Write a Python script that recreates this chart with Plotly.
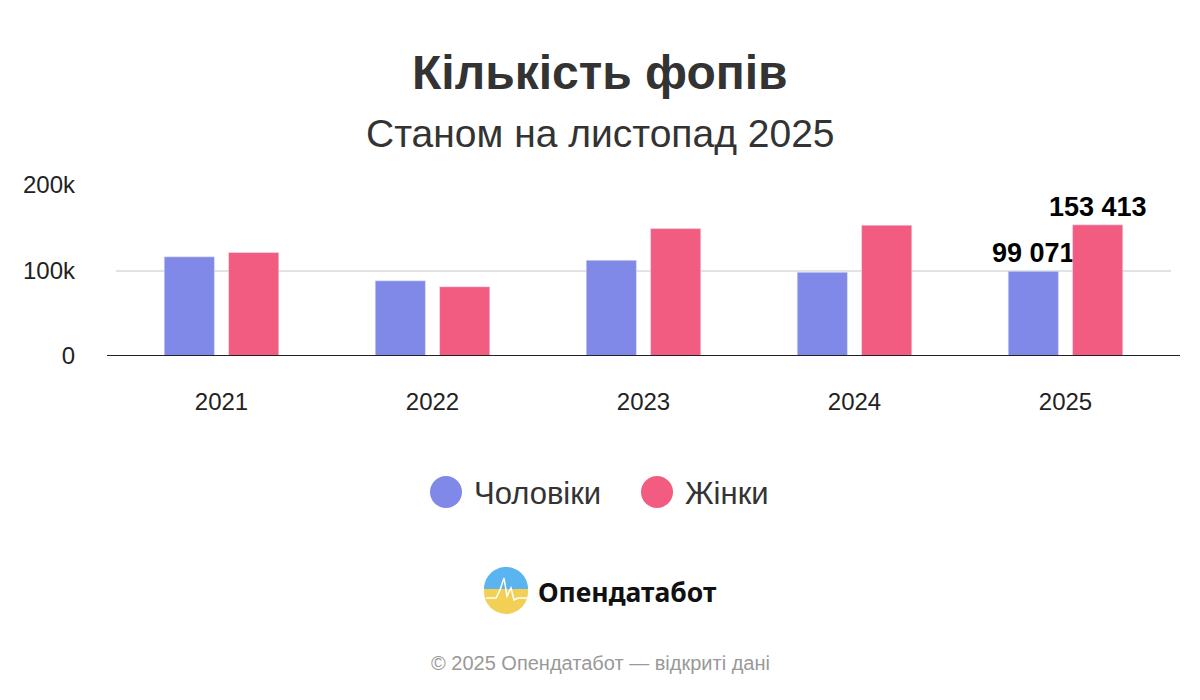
import plotly.graph_objects as go
import math

years = ["2021", "2022", "2023", "2024", "2025"]
men = [116000, 88000, 112000, 98000, 99071]
women = [121000, 81000, 149000, 153000, 153413]
men_labels = ["", "", "", "", "99 071"]
women_labels = ["", "", "", "", "153 413"]
tick_vals = [0, 100000, 200000]
tick_text = ["0", "100k", "200k"]

OFF = 8
L, R, T, B = 116, 1171, 185, 356
def px(p): return (p - L) / (R - L)
def py(p): return (B - p) / (B - T)

FONT = "Liberation Sans, Arial, sans-serif"
C_MEN = "#8088E8"
C_WOMEN = "#F25C81"

fig = go.Figure()
for vals, name, col, lab in [(men, "Чоловіки", C_MEN, men_labels), (women, "Жінки", C_WOMEN, women_labels)]:
    fig.add_bar(x=years, y=vals, name=name, marker_color=col, text=lab,
                textposition="outside", cliponaxis=False, constraintext="none",
                textfont=dict(family=FONT, size=27, color="#000000", weight="bold"))

ann = []
shapes = []
def text(t, x, y, size, color="#333333", family=FONT, xanchor="center"):
    ann.append(dict(text=t, x=px(x), y=py(y), xref="paper", yref="paper", xanchor=xanchor,
                    yanchor="middle", showarrow=False, font=dict(family=family, size=size, color=color)))

text("<b>Кількість фопів</b>", 600, 72, 48)
text("Станом на листопад 2025", 600, 133, 39)
for cx, col, label in [(446, C_MEN, "Чоловіки"), (657, C_WOMEN, "Жінки")]:
    shapes.append(dict(type="circle", xref="paper", yref="paper", x0=px(cx - 16), x1=px(cx + 16),
                       y0=py(508), y1=py(476), fillcolor=col, line_width=0))
    text(label, cx + 26, 493, 31, xanchor="left")
shapes.append(dict(type="line", xref="paper", yref="y", x0=px(107), x1=px(1180), y0=0, y1=0,
                   layer="above", line=dict(color="#222222", width=2)))
# logo
cx, cy, r = 506, 592, 22
shapes.append(dict(type="circle", xref="paper", yref="paper", x0=px(cx - r), x1=px(cx + r),
                   y0=py(cy + r), y1=py(cy - r), fillcolor="#F2CF55", line_width=0))
pts = [(cx + r * math.cos(a * math.pi / 40), cy - 3 - r * math.sin(a * math.pi / 40)) for a in range(0, 41)]
path = "M " + " L ".join("{:.5f},{:.5f}".format(px(x), py(y)) for x, y in pts) + " Z"
shapes.append(dict(type="path", xref="paper", yref="paper", path=path, fillcolor="#5AB4F0", line_width=0))
spike = [(486, 598), (496, 598), (500, 590), (504, 578), (507, 596), (511, 588), (514, 600), (518, 598), (528, 598)]
shapes.append(dict(type="path", xref="paper", yref="paper",
                   path="M " + " L ".join("{:.5f},{:.5f}".format(px(x), py(y)) for x, y in spike),
                   line=dict(color="white", width=1.5)))
text("<b>Опендатабот</b>", 536, 592, 26.5, color="#111111", family="Noto Sans, sans-serif", xanchor="left")
text("© 2025 Опендатабот — відкриті дані", 600, 663, 20, color="#999999")

fig.update_layout(
    width=1200, height=700, barmode="group", bargap=0.39, bargroupgap=0.22,
    margin=dict(l=L - OFF, r=1200 - R + OFF, t=T - OFF, b=700 - B + OFF, autoexpand=False),
    plot_bgcolor="white", paper_bgcolor="white", showlegend=False,
    font=dict(family=FONT, size=20, color="#333333"),
    annotations=ann, shapes=shapes,
    xaxis=dict(showline=False, ticks="", tickfont=dict(size=24, color="#222222"),
               ticklabelstandoff=29),
    yaxis=dict(range=[0, 200000], tickvals=tick_vals, ticktext=tick_text, showgrid=True,
               gridcolor="#E2E2E2", gridwidth=1.5, zeroline=False, tickfont=dict(size=24, color="#222222"),
               ticklabelstandoff=40),
)
fig.write_html("out.html")
